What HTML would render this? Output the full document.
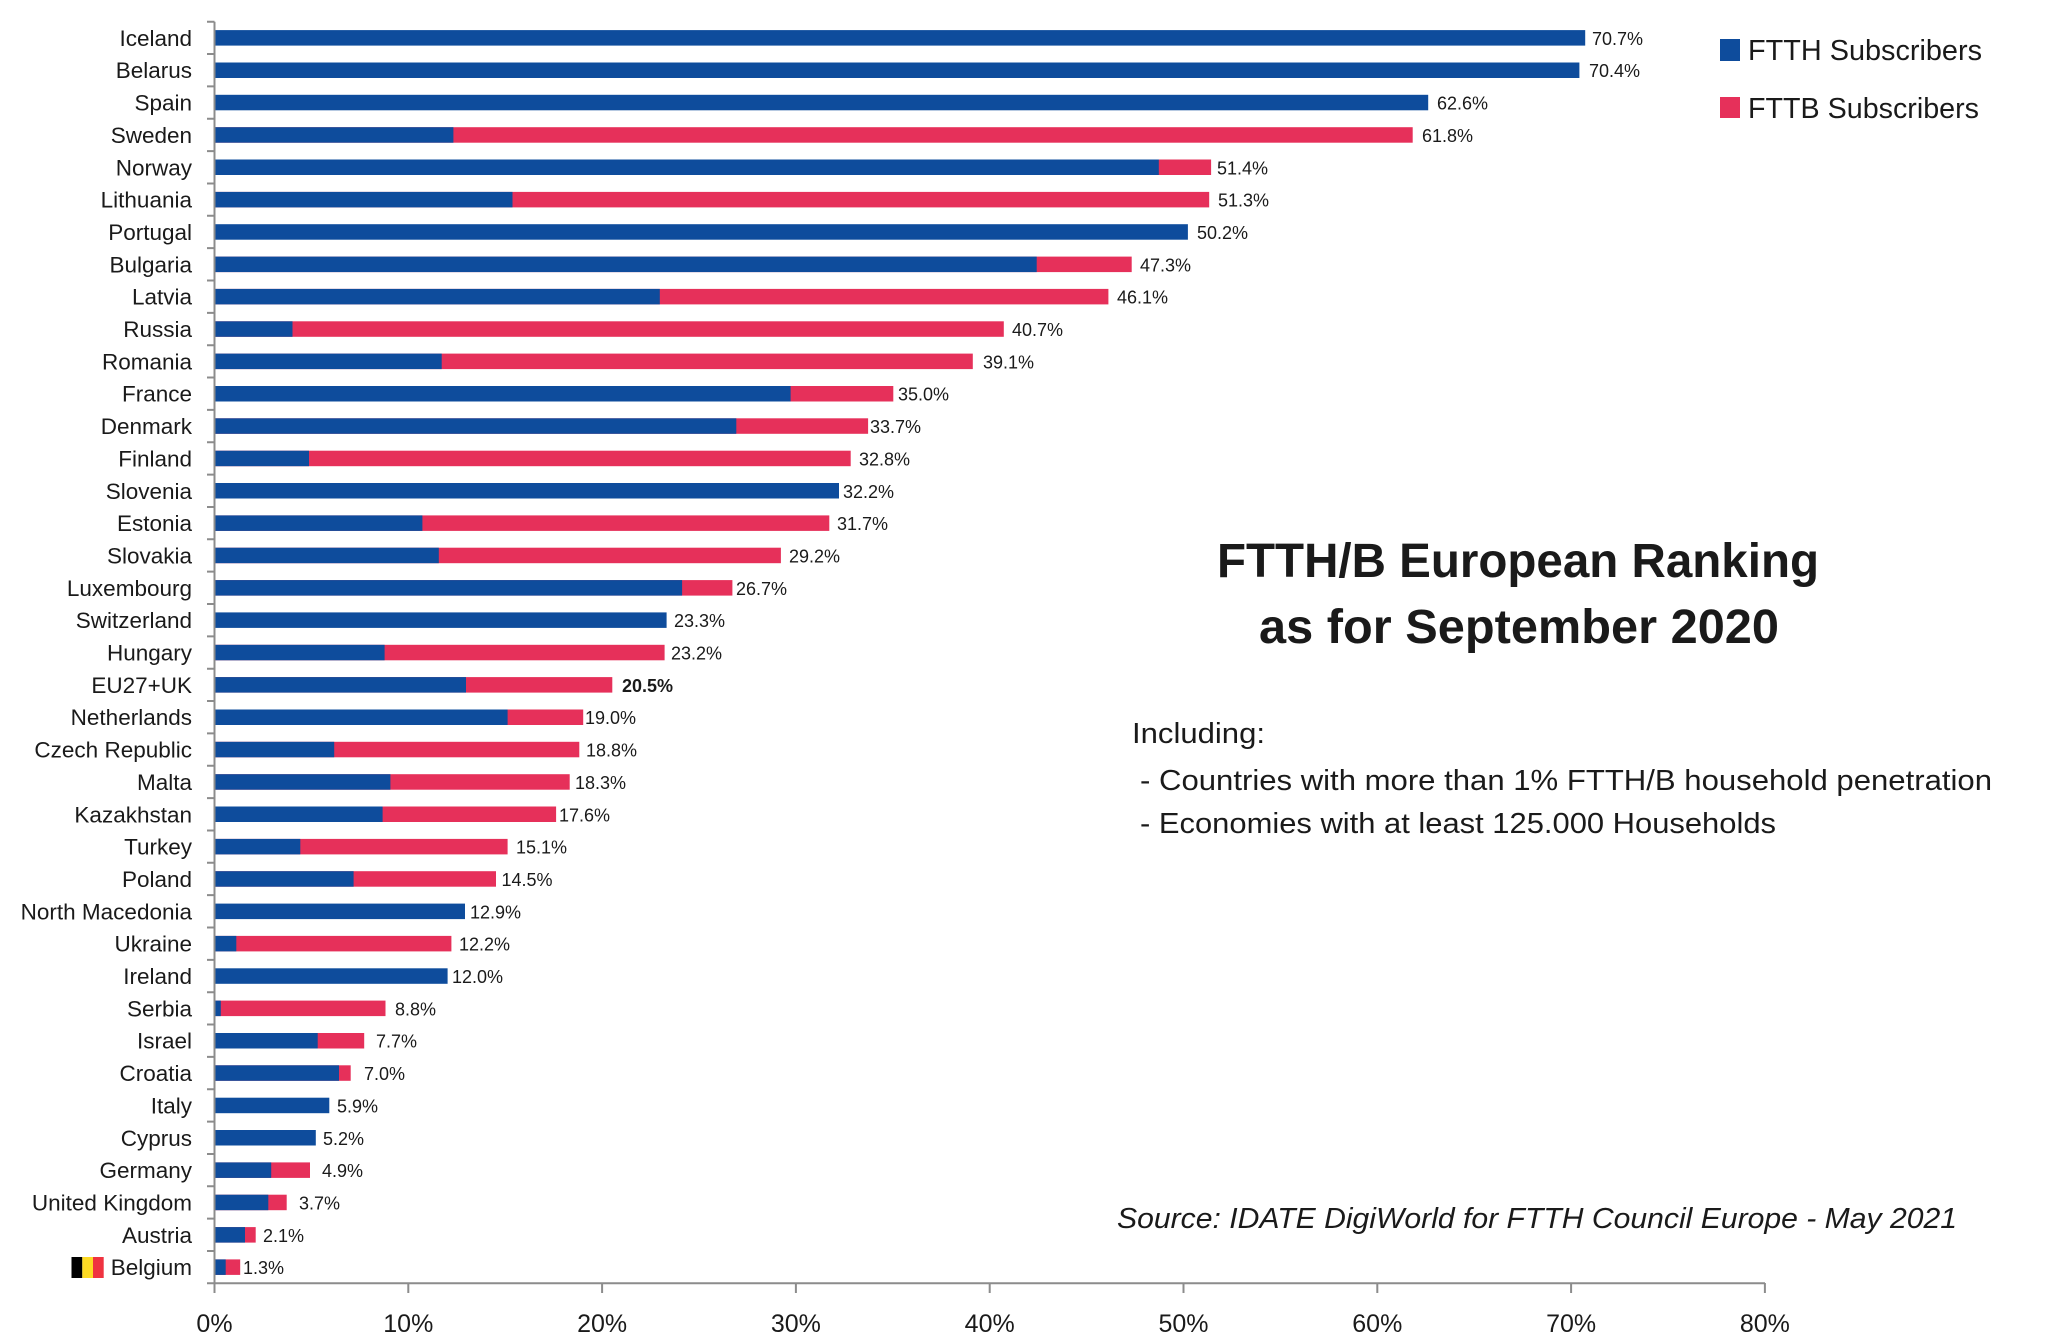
<!DOCTYPE html>
<html><head><meta charset="utf-8"><style>
html,body{margin:0;padding:0;background:#fff;}
svg{display:block;}
text{font-family:"Liberation Sans",sans-serif;fill:#1a1a1a;}
.c{font-size:22.5px;text-anchor:end;}
.v{font-size:18px;}
.t{font-size:25px;text-anchor:middle;}
</style></head><body>
<svg width="2048" height="1343" viewBox="0 0 2048 1343" xmlns="http://www.w3.org/2000/svg">
<rect width="2048" height="1343" fill="#fff"/>
<g fill="#e6305a">
<rect x="215" y="127.2" width="1197.7" height="15.5"/>
<rect x="215" y="159.5" width="996.1" height="15.5"/>
<rect x="215" y="191.9" width="994.2" height="15.5"/>
<rect x="215" y="256.6" width="916.7" height="15.5"/>
<rect x="215" y="288.9" width="893.4" height="15.5"/>
<rect x="215" y="321.3" width="788.8" height="15.5"/>
<rect x="215" y="353.6" width="757.8" height="15.5"/>
<rect x="215" y="386.0" width="678.3" height="15.5"/>
<rect x="215" y="418.3" width="653.1" height="15.5"/>
<rect x="215" y="450.7" width="635.7" height="15.5"/>
<rect x="215" y="515.4" width="614.3" height="15.5"/>
<rect x="215" y="547.7" width="565.9" height="15.5"/>
<rect x="215" y="580.1" width="517.4" height="15.5"/>
<rect x="215" y="644.8" width="449.6" height="15.5"/>
<rect x="215" y="677.1" width="397.3" height="15.5"/>
<rect x="215" y="709.5" width="368.2" height="15.5"/>
<rect x="215" y="741.8" width="364.3" height="15.5"/>
<rect x="215" y="774.2" width="354.7" height="15.5"/>
<rect x="215" y="806.5" width="341.1" height="15.5"/>
<rect x="215" y="838.9" width="292.6" height="15.5"/>
<rect x="215" y="871.2" width="281.0" height="15.5"/>
<rect x="215" y="935.9" width="236.4" height="15.5"/>
<rect x="215" y="1000.6" width="170.5" height="15.5"/>
<rect x="215" y="1033.0" width="149.2" height="15.5"/>
<rect x="215" y="1065.3" width="135.7" height="15.5"/>
<rect x="215" y="1162.4" width="95.0" height="15.5"/>
<rect x="215" y="1194.7" width="71.7" height="15.5"/>
<rect x="215" y="1227.1" width="40.7" height="15.5"/>
<rect x="215" y="1259.4" width="25.2" height="15.5"/>
</g>
<g fill="#0e4c9c">
<rect x="215" y="30.1" width="1370.2" height="15.5"/>
<rect x="215" y="62.5" width="1364.4" height="15.5"/>
<rect x="215" y="94.8" width="1213.2" height="15.5"/>
<rect x="215" y="127.2" width="238.4" height="15.5"/>
<rect x="215" y="159.5" width="943.8" height="15.5"/>
<rect x="215" y="191.9" width="297.5" height="15.5"/>
<rect x="215" y="224.2" width="972.9" height="15.5"/>
<rect x="215" y="256.6" width="821.7" height="15.5"/>
<rect x="215" y="288.9" width="444.8" height="15.5"/>
<rect x="215" y="321.3" width="77.5" height="15.5"/>
<rect x="215" y="353.6" width="226.7" height="15.5"/>
<rect x="215" y="386.0" width="575.6" height="15.5"/>
<rect x="215" y="418.3" width="521.3" height="15.5"/>
<rect x="215" y="450.7" width="94.0" height="15.5"/>
<rect x="215" y="483.0" width="624.0" height="15.5"/>
<rect x="215" y="515.4" width="207.4" height="15.5"/>
<rect x="215" y="547.7" width="223.8" height="15.5"/>
<rect x="215" y="580.1" width="467.1" height="15.5"/>
<rect x="215" y="612.4" width="451.6" height="15.5"/>
<rect x="215" y="644.8" width="169.6" height="15.5"/>
<rect x="215" y="677.1" width="251.0" height="15.5"/>
<rect x="215" y="709.5" width="292.6" height="15.5"/>
<rect x="215" y="741.8" width="119.2" height="15.5"/>
<rect x="215" y="774.2" width="175.4" height="15.5"/>
<rect x="215" y="806.5" width="167.6" height="15.5"/>
<rect x="215" y="838.9" width="85.3" height="15.5"/>
<rect x="215" y="871.2" width="138.6" height="15.5"/>
<rect x="215" y="903.6" width="250.0" height="15.5"/>
<rect x="215" y="935.9" width="21.3" height="15.5"/>
<rect x="215" y="968.3" width="232.6" height="15.5"/>
<rect x="215" y="1000.6" width="5.8" height="15.5"/>
<rect x="215" y="1033.0" width="102.7" height="15.5"/>
<rect x="215" y="1065.3" width="124.0" height="15.5"/>
<rect x="215" y="1097.7" width="114.3" height="15.5"/>
<rect x="215" y="1130.0" width="100.8" height="15.5"/>
<rect x="215" y="1162.4" width="56.2" height="15.5"/>
<rect x="215" y="1194.7" width="53.3" height="15.5"/>
<rect x="215" y="1227.1" width="30.0" height="15.5"/>
<rect x="215" y="1259.4" width="10.7" height="15.5"/>
</g>
<!-- axes -->
<g stroke="#8c8c8c" stroke-width="2" fill="none">
<line x1="214.5" y1="21.7" x2="214.5" y2="1284"/>
<line x1="213.5" y1="1283.3" x2="1765" y2="1283.3"/>
<path d="M207 21.7H214.5M207 54.05H214.5M207 86.4H214.5M207 118.75H214.5M207 151.1H214.5M207 183.45H214.5M207 215.8H214.5M207 248.15H214.5M207 280.5H214.5M207 312.85H214.5M207 345.2H214.5M207 377.55H214.5M207 409.9H214.5M207 442.25H214.5M207 474.6H214.5M207 506.95H214.5M207 539.3H214.5M207 571.65H214.5M207 604H214.5M207 636.35H214.5M207 668.7H214.5M207 701.05H214.5M207 733.4H214.5M207 765.75H214.5M207 798.1H214.5M207 830.45H214.5M207 862.8H214.5M207 895.15H214.5M207 927.5H214.5M207 959.85H214.5M207 992.2H214.5M207 1024.55H214.5M207 1056.9H214.5M207 1089.25H214.5M207 1121.6H214.5M207 1153.95H214.5M207 1186.3H214.5M207 1218.65H214.5M207 1251H214.5M207 1283.3H214.5"/>
<path d="M214.5 1283V1293M408.3 1283V1293M602.1 1283V1293M795.9 1283V1293M989.7 1283V1293M1183.5 1283V1293M1377.3 1283V1293M1571.1 1283V1293M1764.9 1283V1293"/>
</g>
<!-- x tick labels -->
<text class="t" x="214.5" y="1332">0%</text>
<text class="t" x="408.3" y="1332">10%</text>
<text class="t" x="602.1" y="1332">20%</text>
<text class="t" x="795.9" y="1332">30%</text>
<text class="t" x="989.7" y="1332">40%</text>
<text class="t" x="1183.5" y="1332">50%</text>
<text class="t" x="1377.3" y="1332">60%</text>
<text class="t" x="1571.1" y="1332">70%</text>
<text class="t" x="1764.9" y="1332">80%</text>
<!-- country labels -->
<text class="c" x="192" y="45.9">Iceland</text>
<text class="c" x="192" y="78.2">Belarus</text>
<text class="c" x="192" y="110.6">Spain</text>
<text class="c" x="192" y="142.9">Sweden</text>
<text class="c" x="192" y="175.3">Norway</text>
<text class="c" x="192" y="207.6">Lithuania</text>
<text class="c" x="192" y="240.0">Portugal</text>
<text class="c" x="192" y="272.3">Bulgaria</text>
<text class="c" x="192" y="304.7">Latvia</text>
<text class="c" x="192" y="337.0">Russia</text>
<text class="c" x="192" y="369.4">Romania</text>
<text class="c" x="192" y="401.7">France</text>
<text class="c" x="192" y="434.1">Denmark</text>
<text class="c" x="192" y="466.4">Finland</text>
<text class="c" x="192" y="498.8">Slovenia</text>
<text class="c" x="192" y="531.1">Estonia</text>
<text class="c" x="192" y="563.5">Slovakia</text>
<text class="c" x="192" y="595.8">Luxembourg</text>
<text class="c" x="192" y="628.2">Switzerland</text>
<text class="c" x="192" y="660.5">Hungary</text>
<text class="c" x="192" y="692.9">EU27+UK</text>
<text class="c" x="192" y="725.2">Netherlands</text>
<text class="c" x="192" y="757.6">Czech Republic</text>
<text class="c" x="192" y="789.9">Malta</text>
<text class="c" x="192" y="822.3">Kazakhstan</text>
<text class="c" x="192" y="854.6">Turkey</text>
<text class="c" x="192" y="887.0">Poland</text>
<text class="c" x="192" y="919.3">North Macedonia</text>
<text class="c" x="192" y="951.7">Ukraine</text>
<text class="c" x="192" y="984.0">Ireland</text>
<text class="c" x="192" y="1016.4">Serbia</text>
<text class="c" x="192" y="1048.7">Israel</text>
<text class="c" x="192" y="1081.1">Croatia</text>
<text class="c" x="192" y="1113.4">Italy</text>
<text class="c" x="192" y="1145.8">Cyprus</text>
<text class="c" x="192" y="1178.1">Germany</text>
<text class="c" x="192" y="1210.5">United Kingdom</text>
<text class="c" x="192" y="1242.8">Austria</text>
<text class="c" x="192" y="1275.2">Belgium</text>
<!-- Belgian flag -->
<rect x="71.5" y="1257" width="10.8" height="21" fill="#000"/>
<rect x="82.3" y="1257" width="10.7" height="21" fill="#fdda24"/>
<rect x="93" y="1257" width="10.7" height="21" fill="#ef3340"/>
<!-- value labels -->
<text class="v" x="1592" y="44.9">70.7%</text>
<text class="v" x="1589" y="77.2">70.4%</text>
<text class="v" x="1437" y="109.6">62.6%</text>
<text class="v" x="1422" y="141.9">61.8%</text>
<text class="v" x="1217" y="174.3">51.4%</text>
<text class="v" x="1218" y="206.6">51.3%</text>
<text class="v" x="1197" y="239.0">50.2%</text>
<text class="v" x="1140" y="271.3">47.3%</text>
<text class="v" x="1117" y="303.7">46.1%</text>
<text class="v" x="1012" y="336.0">40.7%</text>
<text class="v" x="983" y="368.4">39.1%</text>
<text class="v" x="898" y="400.7">35.0%</text>
<text class="v" x="870" y="433.1">33.7%</text>
<text class="v" x="859" y="465.4">32.8%</text>
<text class="v" x="843" y="497.8">32.2%</text>
<text class="v" x="837" y="530.1">31.7%</text>
<text class="v" x="789" y="562.5">29.2%</text>
<text class="v" x="736" y="594.8">26.7%</text>
<text class="v" x="674" y="627.2">23.3%</text>
<text class="v" x="671" y="659.5">23.2%</text>
<text class="v" x="622" y="691.9" font-weight="bold">20.5%</text>
<text class="v" x="585" y="724.2">19.0%</text>
<text class="v" x="586" y="756.6">18.8%</text>
<text class="v" x="575" y="788.9">18.3%</text>
<text class="v" x="559" y="821.3">17.6%</text>
<text class="v" x="516" y="853.6">15.1%</text>
<text class="v" x="501.5" y="886.0">14.5%</text>
<text class="v" x="470" y="918.3">12.9%</text>
<text class="v" x="459" y="950.7">12.2%</text>
<text class="v" x="452" y="983.0">12.0%</text>
<text class="v" x="395" y="1015.4">8.8%</text>
<text class="v" x="376" y="1047.7">7.7%</text>
<text class="v" x="364" y="1080.1">7.0%</text>
<text class="v" x="337" y="1112.4">5.9%</text>
<text class="v" x="323" y="1144.8">5.2%</text>
<text class="v" x="322" y="1177.1">4.9%</text>
<text class="v" x="299" y="1209.5">3.7%</text>
<text class="v" x="263" y="1241.8">2.1%</text>
<text class="v" x="243" y="1274.2">1.3%</text>
<!-- legend -->
<rect x="1720" y="39" width="20" height="22" fill="#0e4c9c"/>
<text x="1748" y="60" font-size="29" textLength="234" lengthAdjust="spacingAndGlyphs">FTTH Subscribers</text>
<rect x="1720" y="97" width="20" height="21" fill="#e6305a"/>
<text x="1748" y="118" font-size="29" textLength="231" lengthAdjust="spacingAndGlyphs">FTTB Subscribers</text>
<!-- title -->
<text x="1217" y="577" font-size="48" font-weight="bold" textLength="602" lengthAdjust="spacingAndGlyphs">FTTH/B European Ranking</text>
<text x="1259" y="643" font-size="48" font-weight="bold" textLength="520" lengthAdjust="spacingAndGlyphs">as for September 2020</text>
<!-- notes -->
<text x="1132" y="743" font-size="29" textLength="133" lengthAdjust="spacingAndGlyphs">Including:</text>
<text x="1140" y="790" font-size="29" textLength="852" lengthAdjust="spacingAndGlyphs">- Countries with more than 1% FTTH/B household penetration</text>
<text x="1140" y="833" font-size="29" textLength="636" lengthAdjust="spacingAndGlyphs">- Economies with at least 125.000 Households</text>
<!-- source -->
<text x="1117" y="1228" font-size="29" font-style="italic" textLength="840" lengthAdjust="spacingAndGlyphs">Source: IDATE DigiWorld for FTTH Council Europe - May 2021</text>
</svg>
</body></html>
